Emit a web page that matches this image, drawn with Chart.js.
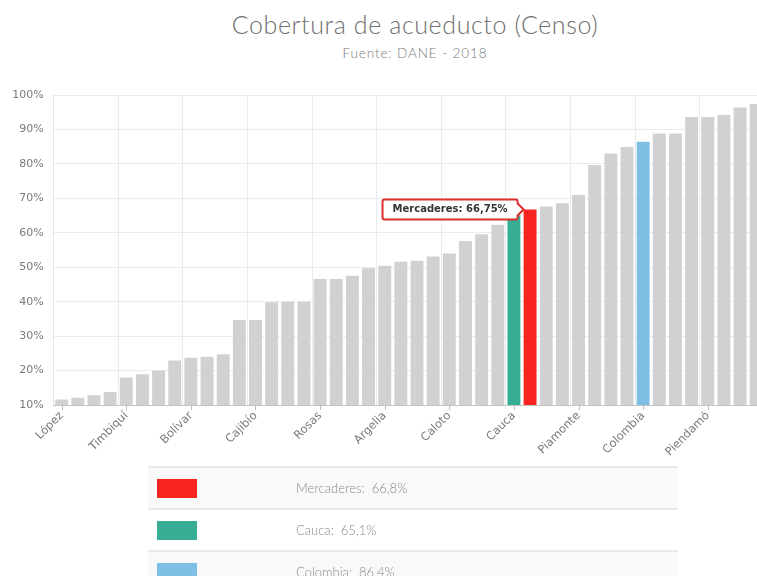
<!DOCTYPE html>
<html>
<head>
<meta charset="utf-8">
<script src="https://cdn.jsdelivr.net/npm/chart.js@4/dist/chart.umd.min.js"></script>
<style>
  html, body { margin:0; padding:0; background:#fff; width:757px; height:576px; overflow:hidden; }
  #wrap { position:absolute; left:0; top:0; width:770px; height:470px; }
  #title { position:absolute; top:9px; left:0; width:830px; text-align:center; font-family:Lato, "Open Sans", sans-serif; font-weight:300; font-size:25px; color:#6f6f6f; letter-spacing:0.6px; }
  #subtitle { position:absolute; top:45px; left:0; width:830px; text-align:center; font-family:Lato, "Open Sans", sans-serif; font-weight:300; font-size:13.5px; color:#7a7a7a; letter-spacing:0.9px; }
  #legend { position:absolute; left:148px; top:466px; width:530px; border-collapse:collapse; font-family:Lato, "Open Sans", sans-serif; font-weight:300; font-size:13px; color:#8a8a8a; }
  #legend td { height:40px; border-top:2px solid #e9e9e9; padding:0; }
  #legend tr:nth-child(odd) { background:#f9f9f9; }
  #legend .sw { width:148px; }
  #legend .sw span { display:block; margin-left:9px; width:40px; height:19px; }
</style>
</head>
<body>
<div id="title">Cobertura de acueducto (Censo)</div>
<div id="subtitle">Fuente: DANE - 2018</div>
<div id="wrap"><canvas id="c"></canvas></div>
<table id="legend"></table>
<script>
// Categories (only every 4th label is readable on the axis; unreadable ones left blank)
const categories = [
  'López','','','','Timbiquí','','','','Bolívar','','','',
  'Cajibío','','','','Rosas','','','','Argelia','','','',
  'Caloto','','','','Cauca','Mercaderes','','','Piamonte','','','',
  'Colombia','','','','Piendamó','','',''
];
// Coverage (%)
const coverage = [
  11.6, 12.1, 12.8, 13.8, 18.0, 18.9, 20.0, 22.9, 23.7, 24.0, 24.7,
  34.7, 34.7, 39.8, 40.0, 40.0, 46.6, 46.6, 47.5, 49.7, 50.4, 51.6,
  51.9, 53.1, 54.0, 57.6, 59.6, 62.3, 65.1, 66.75, 67.6, 68.6, 71.0,
  79.7, 83.0, 84.9, 86.4, 88.8, 88.8, 93.6, 93.6, 94.2, 96.4, 97.4
];
const highlightNames = ['Mercaderes', 'Cauca', 'Colombia'];
const highlightColors = ['#f8241f', '#36ad94', '#7ec0e4'];
const baseColor = '#d1d1d3';
const tooltipName = 'Mercaderes';

const barColors = categories.map(c => {
  const k = highlightNames.indexOf(c);
  return k >= 0 ? highlightColors[k] : baseColor;
});

const fmt = (v, d) => v.toFixed(d).replace('.', ',');

// legend table
const legend = document.getElementById('legend');
highlightNames.forEach((n, k) => {
  const v = coverage[categories.indexOf(n)];
  const tr = document.createElement('tr');
  tr.innerHTML = '<td class="sw"><span style="background:' + highlightColors[k] + '"></span></td><td>' + n + ':&nbsp; ' + fmt(v, 1) + '%</td>';
  legend.appendChild(tr);
});

Chart.Tooltip.positioners.barLeftTop = function(items) {
  if (!items.length) return false;
  const el = items[0].element;
  return { x: el.x - el.width / 2, y: el.y };
};

const centerTicks = {
  id: 'centerTicks',
  afterDraw(chart) {
    const s = chart.scales.x, ctx = chart.ctx;
    ctx.save();
    ctx.strokeStyle = '#bdbdbd';
    ctx.lineWidth = 1;
    for (let i = 0; i < categories.length; i += 4) {
      const x = Math.round(s.getPixelForValue(i)) + 0.5;
      ctx.beginPath();
      ctx.moveTo(x, s.top);
      ctx.lineTo(x, s.top + 5);
      ctx.stroke();
    }
    ctx.restore();
  }
};

const chart = new Chart(document.getElementById('c'), {
  type: 'bar',
  data: {
    labels: categories,
    datasets: [{
      data: coverage,
      backgroundColor: barColors,
      borderWidth: 0,
      barPercentage: 0.8,
      categoryPercentage: 1.0
    }]
  },
  options: {
    responsive: true,
    maintainAspectRatio: false,
    animation: false,
    events: [],
    layout: { padding: { top: 95, right: 3.4, left: 0, bottom: 0 } },
    plugins: {
      legend: { display: false },
      title: { display: false },
      tooltip: {
        position: 'barLeftTop',
        xAlign: 'right',
        yAlign: 'center',
        caretSize: 6,
        caretPadding: 0,
        displayColors: false,
        backgroundColor: '#ffffff',
        borderColor: '#de2f2a',
        borderWidth: 2,
        cornerRadius: 2,
        bodyColor: '#333333',
        bodyFont: { family: 'DejaVu Sans', size: 10, weight: 'bold' },
        padding: { x: 10, y: 4 },
        callbacks: {
          title: () => [],
          label: ctx => ctx.label + ': ' + fmt(ctx.parsed.y, 2) + '%'
        }
      }
    },
    scales: {
      y: {
        min: 10, max: 100,
        ticks: {
          stepSize: 10,
          padding: 10,
          color: '#7a7a7a',
          font: { family: 'DejaVu Sans', size: 11 },
          callback: v => v + '%'
        },
        grid: { color: '#ebebeb', drawTicks: false },
        border: { color: '#e3e3e3' },
        afterFit: s => { s.width = 53.6; }
      },
      x: {
        offset: true,
        ticks: {
          autoSkip: false,
          maxRotation: 45,
          minRotation: 45,
          padding: 4,
          color: '#7a7a7a',
          font: { family: 'DejaVu Sans', size: 11.5 },
          callback: function(v, i) { return i % 4 === 0 ? categories[i] : ''; }
        },
        grid: {
          offset: true,
          drawTicks: false,
          color: ctx => (ctx.index % 4 === 0 ? '#ebebeb' : 'rgba(0,0,0,0)')
        },
        border: { color: '#c4c4c4' },
        afterFit: s => { s.height = 65; }
      }
    }
  },
  plugins: [centerTicks]
});

const ti = categories.indexOf(tooltipName);
chart.tooltip.setActiveElements([{ datasetIndex: 0, index: ti }], { x: 0, y: 0 });
chart.update();
</script>
</body>
</html>
